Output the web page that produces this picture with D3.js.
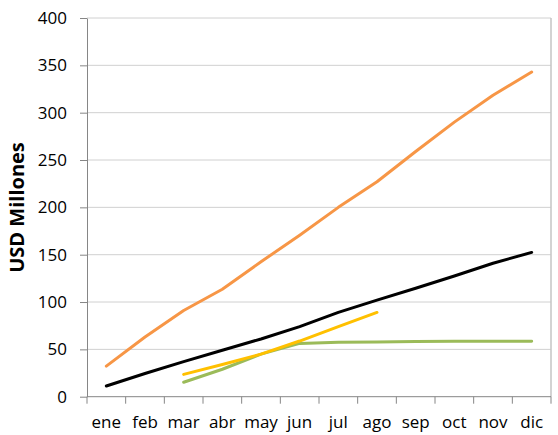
<!DOCTYPE html>
<html>
<head>
<meta charset="utf-8">
<script src="https://cdn.jsdelivr.net/npm/d3@7"></script>
<style>
  html, body { margin: 0; padding: 0; background: #fff; }
  svg { display: block; }
</style>
</head>
<body>
<svg id="chart" width="558" height="435"></svg>
<script>
// Months and cumulative values (USD millions)
const months = ["ene", "feb", "mar", "abr", "may", "jun", "jul", "ago", "sep", "oct", "nov", "dic"];
const serieNaranja = [32.3, 63, 91, 113.5, 142.5, 170.6, 200, 227, 259, 290, 318.4, 343];
const serieNegra   = [11.3, 24.5, 37, 49, 61, 74, 89, 102, 114.5, 127.5, 141, 152.4];
const serieVerde   = [null, null, 15.3, 29, 45, 56.3, 57.4, 57.7, 58.4, 58.5, 58.5, 58.6];
const serieAmarilla = [null, null, 23.6, 34, 45, 58.8, 74, 89, null, null, null, null];
const yTicks = [0, 50, 100, 150, 200, 250, 300, 350, 400];
const yTitle = "USD Millones";

const series = [
  { values: serieNaranja, color: "#F79646" },
  { values: serieNegra, color: "#000000" },
  { values: serieVerde, color: "#9BBB59" },
  { values: serieAmarilla, color: "#FFC000" }
];

const svg = d3.select("#chart");
const plot = { left: 87, right: 551, top: 18, bottom: 396.7 };
const font = "'Open Sans', 'Liberation Sans', sans-serif";

const x = d3.scaleBand().domain(months).range([plot.left, plot.right]);
const y = d3.scaleLinear().domain([0, 400]).range([plot.bottom, plot.top]);

// horizontal gridlines
svg.append("g")
  .selectAll("line")
  .data(yTicks.filter(d => d > 0))
  .join("line")
  .attr("x1", plot.left).attr("x2", plot.right)
  .attr("y1", d => y(d)).attr("y2", d => y(d))
  .attr("stroke", "#D0D0D0").attr("stroke-width", 1);

// right edge of the plot area
svg.append("line")
  .attr("x1", plot.right).attr("x2", plot.right)
  .attr("y1", plot.top).attr("y2", plot.bottom)
  .attr("stroke", "#C4C4C4").attr("stroke-width", 1.5);

// y axis
const yAxis = svg.append("g")
  .attr("transform", `translate(${plot.left},0)`)
  .call(d3.axisLeft(y).tickValues(yTicks).tickSize(7).tickPadding(13).tickSizeOuter(0));
yAxis.select(".domain").attr("stroke", "#868686");
yAxis.selectAll(".tick line").attr("stroke", "#868686");
yAxis.selectAll(".tick text")
  .attr("font-family", font).attr("font-size", 17).attr("fill", "#000");

// x axis with ticks between the months
const xAxisG = svg.append("g")
  .attr("transform", `translate(0,${plot.bottom})`);
xAxisG.append("line")
  .attr("x1", plot.left).attr("x2", plot.right)
  .attr("stroke", "#868686");
const boundaries = d3.range(months.length + 1).map(i => plot.left + i * x.step());
xAxisG.selectAll(".btick")
  .data(boundaries)
  .join("line")
  .attr("class", "btick")
  .attr("x1", d => d).attr("x2", d => d)
  .attr("y1", 0).attr("y2", 7)
  .attr("stroke", "#868686");
xAxisG.selectAll(".mlabel")
  .data(months)
  .join("text")
  .attr("class", "mlabel")
  .attr("x", d => x(d) + x.bandwidth() / 2)
  .attr("y", 31)
  .attr("text-anchor", "middle")
  .attr("font-family", font).attr("font-size", 17).attr("fill", "#000")
  .text(d => d);

// y axis title
svg.append("text")
  .attr("transform", `translate(24,207.5) rotate(-90)`)
  .attr("text-anchor", "middle")
  .attr("font-family", font).attr("font-size", 20).attr("font-weight", "bold")
  .attr("fill", "#000")
  .text(yTitle);

// series lines
const line = d3.line()
  .defined(d => d.v != null)
  .x(d => x(d.m) + x.bandwidth() / 2)
  .y(d => y(d.v));

svg.append("g")
  .selectAll("path")
  .data(series)
  .join("path")
  .attr("d", s => line(months.map((m, i) => ({ m, v: s.values[i] }))))
  .attr("fill", "none")
  .attr("stroke", s => s.color)
  .attr("stroke-width", 3)
  .attr("stroke-linejoin", "round")
  .attr("stroke-linecap", "round");
</script>
</body>
</html>
